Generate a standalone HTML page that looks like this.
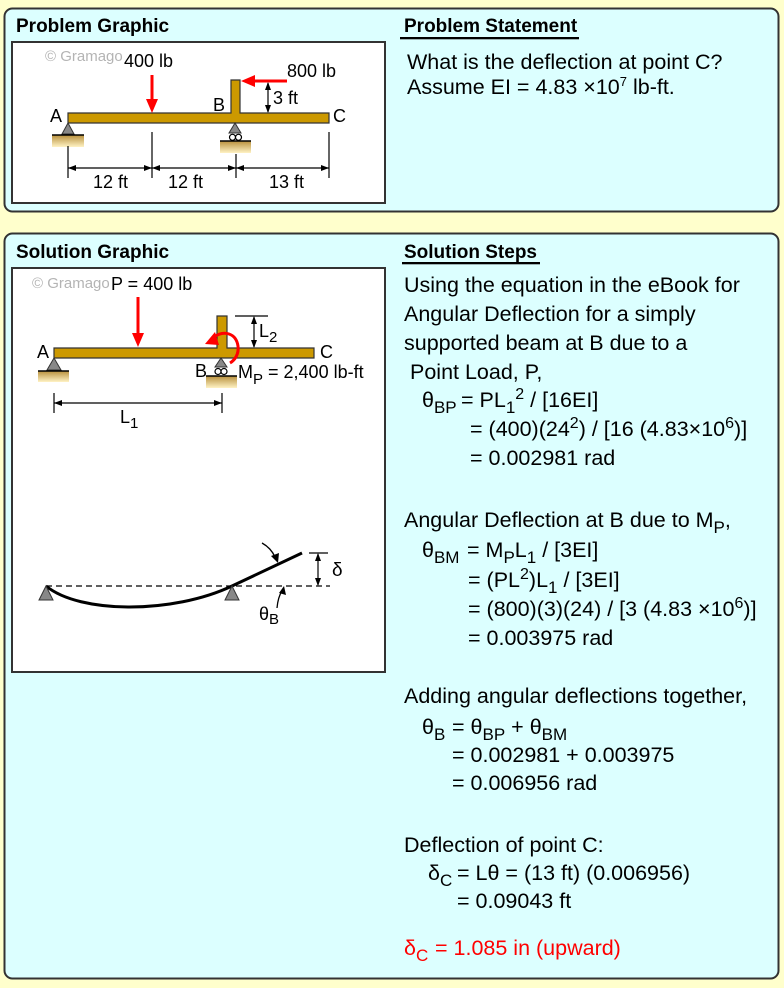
<!DOCTYPE html>
<html><head><meta charset="utf-8"><style>
html,body{margin:0;padding:0;background:#FFFFCC;}
svg{display:block;}
text{font-family:"Liberation Sans",Arial,sans-serif;}
</style></head><body>
<svg width="784" height="988" viewBox="0 0 784 988" xmlns="http://www.w3.org/2000/svg">
<defs>
<linearGradient id="gr" x1="0" y1="0" x2="0" y2="1">
<stop offset="0" stop-color="#B8903C"/><stop offset="1" stop-color="#FFF2C4"/>
</linearGradient>
</defs>
<rect width="784" height="988" fill="#FFFFCC"/>
<!-- panels -->
<rect x="4.5" y="8.5" width="774" height="203" rx="8" fill="#DCFFFF" stroke="#333" stroke-width="2"/>
<rect x="4.5" y="233.5" width="774" height="745" rx="8" fill="#DCFFFF" stroke="#333" stroke-width="2"/>
<!-- white boxes -->
<rect x="12" y="42" width="373" height="161" fill="#fff" stroke="#333" stroke-width="2"/>
<rect x="12" y="268" width="373" height="404" fill="#fff" stroke="#333" stroke-width="2"/>

<!-- titles -->
<text x="16" y="32" font-size="19" font-weight="bold">Problem Graphic</text>
<text x="404" y="32" font-size="19" font-weight="bold">Problem Statement</text>
<rect x="400" y="37" width="179" height="2.3" fill="#000"/>
<text x="16" y="258" font-size="19" font-weight="bold">Solution Graphic</text>
<text x="404" y="258" font-size="19" font-weight="bold">Solution Steps</text>
<rect x="402" y="262" width="138" height="2.3" fill="#000"/>

<!-- problem statement -->
<text x="407" y="69" font-size="21.5">What is the deflection at point C?</text>
<text x="407" y="94" font-size="21.5">Assume EI = 4.83 ×10<tspan font-size="13" dy="-8">7</tspan><tspan dy="8"> lb-ft.</tspan></text>

<!-- ===== Problem graphic ===== -->
<text x="45" y="61" font-size="15" fill="#b4b4b4">© Gramago</text>
<text x="124" y="67" font-size="18">400 lb</text>
<text x="287" y="77" font-size="18">800 lb</text>
<path d="M68,113 H231 V80 H240 V113 H329 V123 H68 Z" fill="#CC9900" stroke="#333" stroke-width="1.2"/>
<line x1="152" y1="75" x2="152" y2="101" stroke="#f00" stroke-width="3"/>
<polygon points="152,113 146,99 158,99" fill="#f00"/>
<line x1="287" y1="81" x2="252" y2="81" stroke="#f00" stroke-width="3"/>
<polygon points="241,81 255,75 255,87" fill="#f00"/>
<line x1="268" y1="83" x2="268" y2="112" stroke="#000" stroke-width="1.2"/>
<polygon points="268,82 265,90 271,90" fill="#000"/>
<polygon points="268,113 265,105 271,105" fill="#000"/>
<text x="273" y="104" font-size="18">3 ft</text>
<text x="213" y="111" font-size="18">B</text>
<text x="50" y="122" font-size="18">A</text>
<text x="333" y="122" font-size="18">C</text>
<polygon points="68,123 62,134 74,134" fill="#888" stroke="#333" stroke-width="1"/>
<rect x="52" y="135" width="32" height="12" fill="url(#gr)"/>
<line x1="52" y1="135" x2="84" y2="135" stroke="#000" stroke-width="1.5"/>
<polygon points="235,123 229,133 241,133" fill="#888" stroke="#333" stroke-width="1"/>
<circle cx="232.5" cy="137.3" r="3" fill="#fff" stroke="#000" stroke-width="1.2"/>
<circle cx="238.5" cy="137.3" r="3" fill="#fff" stroke="#000" stroke-width="1.2"/>
<rect x="220" y="141" width="31" height="12" fill="url(#gr)"/>
<line x1="220" y1="141" x2="251" y2="141" stroke="#000" stroke-width="1.5"/>
<g stroke="#000" stroke-width="1.2">
<line x1="68" y1="146" x2="68" y2="178"/>
<line x1="152" y1="132" x2="152" y2="178"/>
<line x1="236" y1="154" x2="236" y2="178"/>
<line x1="329" y1="132" x2="329" y2="178"/>
<line x1="68" y1="168" x2="329" y2="168"/>
</g>
<g fill="#000">
<polygon points="68,168 76,165 76,171"/>
<polygon points="152,168 144,165 144,171"/>
<polygon points="152,168 160,165 160,171"/>
<polygon points="236,168 228,165 228,171"/>
<polygon points="236,168 244,165 244,171"/>
<polygon points="329,168 321,165 321,171"/>
</g>
<text x="93" y="188" font-size="18">12 ft</text>
<text x="168" y="188" font-size="18">12 ft</text>
<text x="269" y="188" font-size="18">13 ft</text>

<!-- ===== Solution graphic ===== -->
<text x="32" y="288" font-size="15" fill="#b4b4b4">© Gramago</text>
<text x="111" y="290" font-size="18">P = 400 lb</text>
<path d="M54,348 H217 V316 H227 V348 H314 V358 H54 Z" fill="#CC9900" stroke="#333" stroke-width="1.2"/>
<line x1="138" y1="297" x2="138" y2="335" stroke="#f00" stroke-width="3"/>
<polygon points="138,347 132,333 144,333" fill="#f00"/>
<line x1="235" y1="316" x2="268" y2="316" stroke="#000" stroke-width="1.2"/>
<line x1="254" y1="317" x2="254" y2="347" stroke="#000" stroke-width="1.2"/>
<polygon points="254,316 251,324 257,324" fill="#000"/>
<polygon points="254,348 251,340 257,340" fill="#000"/>
<text x="259" y="337" font-size="18">L<tspan font-size="15" dy="5">2</tspan></text>
<path d="M214,337 C224,330 236,333 238,346 C239,354 235,360 230,363" fill="none" stroke="#f00" stroke-width="3"/>
<polygon points="205,344 215,332 219,345" fill="#f00"/>
<text x="37" y="358" font-size="18">A</text>
<text x="320" y="358" font-size="18">C</text>
<polygon points="54,358 47,370 61,370" fill="#888" stroke="#333" stroke-width="1"/>
<rect x="38" y="371" width="31" height="11" fill="url(#gr)"/>
<line x1="38" y1="371" x2="69" y2="371" stroke="#000" stroke-width="1.5"/>
<polygon points="221,358 215,367 227,367" fill="#888" stroke="#333" stroke-width="1"/>
<circle cx="218" cy="371.5" r="3" fill="#fff" stroke="#000" stroke-width="1.2"/>
<circle cx="224" cy="371.5" r="3" fill="#fff" stroke="#000" stroke-width="1.2"/>
<rect x="206" y="376" width="31" height="12" fill="url(#gr)"/>
<line x1="206" y1="376" x2="237" y2="376" stroke="#000" stroke-width="1.5"/>
<text x="195" y="377" font-size="18">B</text>
<text x="238" y="378" font-size="18">M<tspan font-size="15" dy="6">P</tspan><tspan dy="-6"> = 2,400 lb-ft</tspan></text>
<g stroke="#000" stroke-width="1.2">
<line x1="54" y1="393" x2="54" y2="413"/>
<line x1="222" y1="393" x2="222" y2="413"/>
<line x1="54" y1="403" x2="222" y2="403"/>
</g>
<polygon points="54,403 62,400 62,406" fill="#000"/>
<polygon points="222,403 214,400 214,406" fill="#000"/>
<text x="120" y="423" font-size="18">L<tspan font-size="15" dy="5">1</tspan></text>

<!-- deflection diagram -->
<line x1="46" y1="586" x2="330" y2="586" stroke="#000" stroke-width="1.2" stroke-dasharray="6,4"/>
<path d="M46,586 C80,614 173,614 232,586 L302,553" fill="none" stroke="#000" stroke-width="3"/>
<polygon points="46,586 39,600 53,600" fill="#888" stroke="#333" stroke-width="1"/>
<polygon points="232,586 225,600 239,600" fill="#888" stroke="#333" stroke-width="1"/>
<path d="M262,543 Q271,548 275,557" fill="none" stroke="#000" stroke-width="1.3"/>
<polygon points="278,563 271,556 279,553" fill="#000"/>
<line x1="309" y1="553" x2="328" y2="553" stroke="#000" stroke-width="1.2"/>
<line x1="318" y1="554" x2="318" y2="585" stroke="#000" stroke-width="1.2"/>
<polygon points="318,553 315,561 321,561" fill="#000"/>
<polygon points="318,586 315,578 321,578" fill="#000"/>
<text x="332" y="576" font-size="19">δ</text>
<path d="M277,608 Q278,597 282,591" fill="none" stroke="#000" stroke-width="1.3"/>
<polygon points="284,586 279,593 286,595" fill="#000"/>
<text x="259" y="620" font-size="18">θ<tspan font-size="15" dy="4">B</tspan></text>

<!-- ===== Solution steps ===== -->
<g font-size="21.5" fill="#000">
<text x="404" y="292">Using the equation in the eBook for</text>
<text x="404" y="321">Angular Deflection for a simply</text>
<text x="404" y="350">supported beam at B due to a</text>
<text x="410" y="379">Point Load, P,</text>
<text x="422" y="407">θ<tspan font-size="17" dy="6">BP</tspan></text>
<text x="461" y="407">= PL<tspan font-size="17" dy="6">1</tspan><tspan font-size="16" dy="-14">2</tspan><tspan dy="8"> / [16EI]</tspan></text>
<text x="470" y="436">= (400)(24<tspan font-size="16" dy="-8">2</tspan><tspan dy="8">) / [16 (4.83×10</tspan><tspan font-size="16" dy="-8">6</tspan><tspan dy="8">)]</tspan></text>
<text x="470" y="465">= 0.002981 rad</text>

<text x="404" y="527">Angular Deflection at B due to M<tspan font-size="17" dy="6">P</tspan><tspan dy="-6">,</tspan></text>
<text x="422" y="557">θ<tspan font-size="17" dy="6">BM</tspan></text>
<text x="467" y="557">= M<tspan font-size="17" dy="6">P</tspan><tspan dy="-6">L</tspan><tspan font-size="17" dy="6">1</tspan><tspan dy="-6"> / [3EI]</tspan></text>
<text x="468" y="587">= (PL<tspan font-size="16" dy="-8">2</tspan><tspan dy="8">)L</tspan><tspan font-size="17" dy="6">1</tspan><tspan dy="-6"> / [3EI]</tspan></text>
<text x="468" y="616">= (800)(3)(24) / [3 (4.83 ×10<tspan font-size="16" dy="-8">6</tspan><tspan dy="8">)]</tspan></text>
<text x="468" y="645">= 0.003975 rad</text>

<text x="404" y="703">Adding angular deflections together,</text>
<text x="422" y="734">θ<tspan font-size="17" dy="6">B</tspan></text>
<text x="452" y="734">= θ<tspan font-size="17" dy="6">BP</tspan><tspan dy="-6"> + θ</tspan><tspan font-size="17" dy="6">BM</tspan></text>
<text x="452" y="762">= 0.002981 + 0.003975</text>
<text x="452" y="790">= 0.006956 rad</text>

<text x="404" y="852">Deflection of point C:</text>
<text x="428" y="880">δ<tspan font-size="17" dy="6">C</tspan></text>
<text x="457" y="880">= Lθ = (13 ft) (0.006956)</text>
<text x="457" y="908">= 0.09043 ft</text>

<text x="404" y="955" fill="#f00">δ<tspan font-size="17" dy="6">C</tspan></text>
<text x="435" y="955" fill="#f00">= 1.085 in (upward)</text>
</g>
</svg>
</body></html>
